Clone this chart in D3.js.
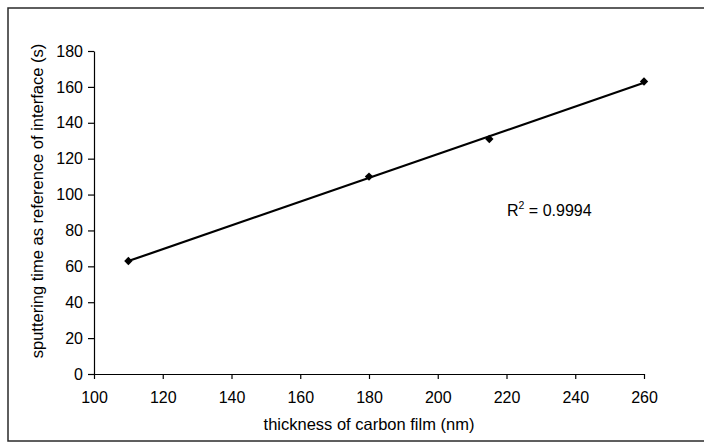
<!DOCTYPE html>
<html>
<head>
<meta charset="utf-8">
<script src="https://cdn.jsdelivr.net/npm/d3@7/dist/d3.min.js"></script>
<style>
  html, body { margin: 0; padding: 0; background: #fff; }
  svg { display: block; font-family: "Liberation Sans", Arial, sans-serif; }
</style>
</head>
<body>
<svg id="chart" width="704" height="442"></svg>
<script>
// Film thickness (nm) vs. sputtering time at the interface (s)
const thickness = [110, 180, 215, 260];
const sputterTime = [63, 110, 131, 163];
const xTicks = [100, 120, 140, 160, 180, 200, 220, 240, 260];
const yTicks = [0, 20, 40, 60, 80, 100, 120, 140, 160, 180];
const xTitle = "thickness of carbon film (nm)";
const yTitle = "sputtering time as reference of interface (s)";
const r2Label = "0.9994";

const svg = d3.select("#chart");

// outer frame
svg.append("rect")
  .attr("x", 8).attr("y", 8)
  .attr("width", 704).attr("height", 433)
  .attr("fill", "none").attr("stroke", "#2a2a2a").attr("stroke-width", 1.5);

const plot = { left: 94, right: 644, top: 51, bottom: 374 };

const x = d3.scaleLinear().domain([100, 260]).range([plot.left, plot.right]);
const y = d3.scaleLinear().domain([0, 180]).range([plot.bottom, plot.top]);

const xAxis = svg.append("g")
  .attr("transform", `translate(0,${plot.bottom})`)
  .call(d3.axisBottom(x).tickValues(xTicks).tickSize(5).tickPadding(13).tickSizeOuter(0));

const yAxis = svg.append("g")
  .attr("transform", `translate(${plot.left},0)`)
  .call(d3.axisLeft(y).tickValues(yTicks).tickSize(6).tickPadding(5).tickSizeOuter(0));

[xAxis, yAxis].forEach(g => {
  g.select(".domain").attr("stroke", "#000").attr("stroke-width", 1.2);
  g.selectAll(".tick line").attr("stroke", "#000").attr("stroke-width", 1.2);
  g.selectAll(".tick text").attr("fill", "#000").style("font-size", "16px")
    .style("font-family", "'Liberation Sans', Arial, sans-serif");
});

// linear least-squares trend line over the data range
const n = thickness.length;
const mx = d3.mean(thickness), my = d3.mean(sputterTime);
let sxy = 0, sxx = 0;
for (let i = 0; i < n; i++) {
  sxy += (thickness[i] - mx) * (sputterTime[i] - my);
  sxx += (thickness[i] - mx) ** 2;
}
const slope = sxy / sxx, intercept = my - slope * mx;
const x0 = d3.min(thickness), x1 = d3.max(thickness);

svg.append("line")
  .attr("x1", x(x0)).attr("y1", y(slope * x0 + intercept))
  .attr("x2", x(x1)).attr("y2", y(slope * x1 + intercept))
  .attr("stroke", "#000").attr("stroke-width", 2.2);

// data markers
svg.append("g").selectAll("path")
  .data(thickness.map((t, i) => [t, sputterTime[i]]))
  .join("path")
  .attr("d", d3.symbol(d3.symbolDiamond2, 45))
  .attr("transform", d => `translate(${x(d[0])},${y(d[1])})`)
  .attr("fill", "#000");

// axis titles
svg.append("text")
  .attr("x", (plot.left + plot.right) / 2).attr("y", 430)
  .attr("text-anchor", "middle").style("font-size", "16.5px")
  .text(xTitle);

svg.append("text")
  .attr("transform", `translate(43,201) rotate(-90)`)
  .attr("text-anchor", "middle").style("font-size", "16.5px")
  .text(yTitle);

// coefficient of determination
const r2 = svg.append("text")
  .attr("x", 507).attr("y", 216).style("font-size", "16px");
r2.append("tspan").text("R");
r2.append("tspan").attr("dy", -7).style("font-size", "10.5px").text("2");
r2.append("tspan").attr("dy", 7).text(" = " + r2Label);
</script>
</body>
</html>
